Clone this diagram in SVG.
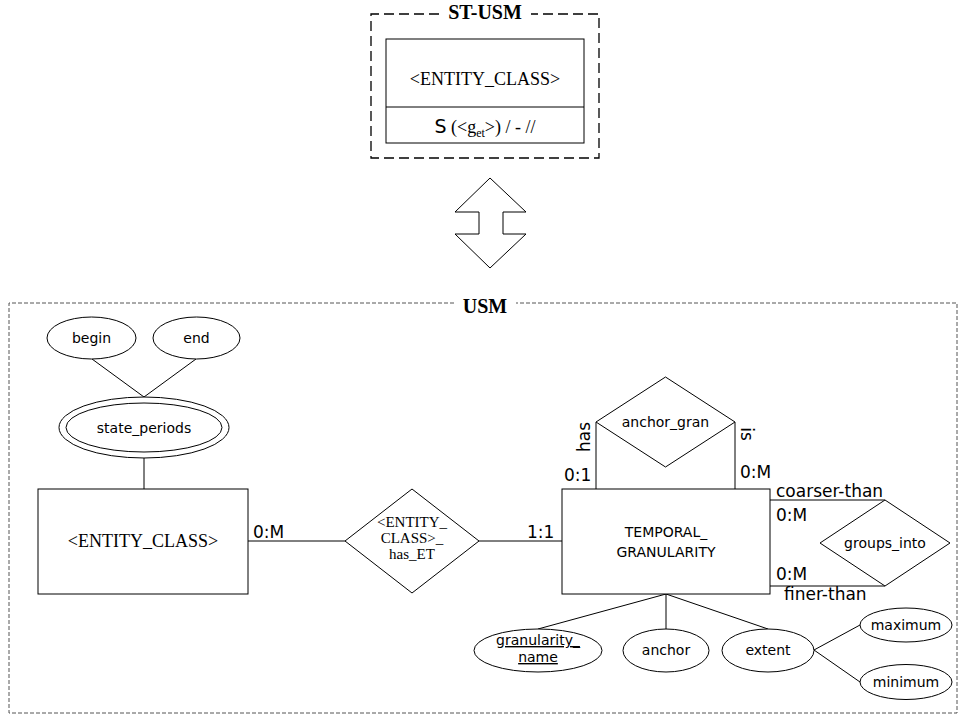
<svg xmlns="http://www.w3.org/2000/svg" width="963" height="717" viewBox="0 0 963 717">
<style>
.s{fill:none;stroke:#000;stroke-width:1}
.n{fill:#fff;stroke:#000;stroke-width:1}
.t{font-family:"DejaVu Sans",Verdana,sans-serif;font-size:14px;fill:#000;text-anchor:middle}
.r{font-family:"Liberation Serif","Times New Roman",serif;fill:#000;text-anchor:middle}
.c{font-family:"DejaVu Sans",Verdana,sans-serif;font-size:17px;fill:#000}
</style>
<rect width="963" height="717" fill="#fff"/>

<g id="st-usm">
<path d="M439,14 H371 V158 H599 V14 H531" fill="none" stroke="#000" stroke-width="1.3" stroke-dasharray="10,5"/>
<text x="485" y="19" class="r" font-weight="bold" font-size="20">ST-USM</text>
<rect x="386" y="39" width="198" height="104" class="n"/>
<line x1="386" y1="107" x2="584" y2="107" class="s"/>
<text x="485" y="85" class="r" font-size="18">&lt;ENTITY_CLASS&gt;</text>
<text x="485" y="133" class="r" font-size="18"><tspan font-family="DejaVu Sans" font-size="19">S</tspan> (&lt;g<tspan font-size="12" dy="4">et</tspan><tspan dy="-4">&gt;) / - //</tspan></text>
</g>

<g id="equivalence">
<polygon points="490,178 526,212 503,212 503,234 526,234 490,268 455,234 479,234 479,212 455,212" class="n"/>
</g>

<g id="usm">
<path d="M454,303 H9 V713 H957 V303 H516" fill="none" stroke="#555" stroke-dasharray="4,2"/>
<text x="485" y="313" class="r" font-weight="bold" font-size="20">USM</text>
</g>

<g id="connectors" class="s">
<line x1="92" y1="359" x2="144" y2="397"/>
<line x1="196" y1="359" x2="144" y2="397"/>
<line x1="144" y1="458" x2="144" y2="489"/>
<line x1="248" y1="541" x2="345" y2="541"/>
<line x1="479" y1="541" x2="562" y2="541"/>
<line x1="596" y1="422" x2="596" y2="489"/>
<line x1="735" y1="422" x2="735" y2="489"/>
<line x1="770" y1="500" x2="885" y2="500"/>
<line x1="770" y1="586" x2="885" y2="586"/>
<line x1="666" y1="594" x2="538" y2="629"/>
<line x1="666" y1="594" x2="666" y2="629"/>
<line x1="666" y1="594" x2="768" y2="629"/>
<line x1="814" y1="650" x2="860" y2="625"/>
<line x1="814" y1="650" x2="860" y2="682"/>
</g>

<g id="begin">
<ellipse cx="91.5" cy="338" rx="44.5" ry="21" class="n"/>
<text x="91.5" y="343" class="t">begin</text>
</g>
<g id="end">
<ellipse cx="196.5" cy="338" rx="43.5" ry="21" class="n"/>
<text x="196.5" y="343" class="t">end</text>
</g>
<g id="state_periods">
<ellipse cx="144" cy="427.5" rx="85" ry="30.5" class="n"/>
<ellipse cx="144" cy="427.5" rx="78" ry="24.5" class="n"/>
<text x="144" y="433" class="t">state_periods</text>
</g>
<g id="entity_class">
<rect x="38" y="489" width="210" height="105" class="n"/>
<text x="143" y="547" class="r" font-size="18">&lt;ENTITY_CLASS&gt;</text>
</g>
<g id="has_et">
<polygon points="412,489 479,541 412,593 345,541" class="n"/>
<text class="r" font-size="15"><tspan x="412" y="527">&lt;ENTITY_</tspan><tspan x="412" y="543">CLASS&gt;_</tspan><tspan x="412" y="559">has_ET</tspan></text>
</g>
<g id="temporal_granularity">
<rect x="562" y="489" width="208" height="105" class="n"/>
<text class="t" font-size="15.5"><tspan x="666" y="537">TEMPORAL_</tspan><tspan x="666" y="557">GRANULARITY</tspan></text>
</g>
<g id="anchor_gran">
<polygon points="665.5,377 735,422 665.5,467 596,422" class="n"/>
<text x="665.5" y="427" class="t">anchor_gran</text>
</g>
<g id="groups_into">
<polygon points="820,543 885,500 950,543 885,586" class="n"/>
<text x="885" y="548" class="t">groups_into</text>
</g>
<g id="granularity_name">
<ellipse cx="538" cy="650.5" rx="64" ry="21.5" class="n"/>
<text class="t" text-decoration="underline"><tspan x="538" y="645">granularity_</tspan><tspan x="538" y="662">name</tspan></text>
</g>
<g id="anchor">
<ellipse cx="666" cy="650.5" rx="43" ry="21.5" class="n"/>
<text x="666" y="655" class="t">anchor</text>
</g>
<g id="extent">
<ellipse cx="768" cy="650.5" rx="46" ry="21.5" class="n"/>
<text x="768" y="655" class="t">extent</text>
</g>
<g id="maximum">
<ellipse cx="906" cy="625" rx="46" ry="17" class="n"/>
<text x="906" y="630" class="t">maximum</text>
</g>
<g id="minimum">
<ellipse cx="906" cy="682" rx="46" ry="17.5" class="n"/>
<text x="906" y="687" class="t">minimum</text>
</g>

<g id="labels" class="c">
<text x="253" y="538">0:M</text>
<text x="527" y="538">1:1</text>
<text x="564" y="481">0:1</text>
<text transform="translate(590,437) rotate(-90)" text-anchor="middle">has</text>
<text x="740" y="478">0:M</text>
<text transform="translate(741,434) rotate(90)" text-anchor="middle">is</text>
<text x="776" y="497">coarser-than</text>
<text x="776" y="521">0:M</text>
<text x="776" y="580">0:M</text>
<text x="784" y="600">finer-than</text>
</g>
</svg>
